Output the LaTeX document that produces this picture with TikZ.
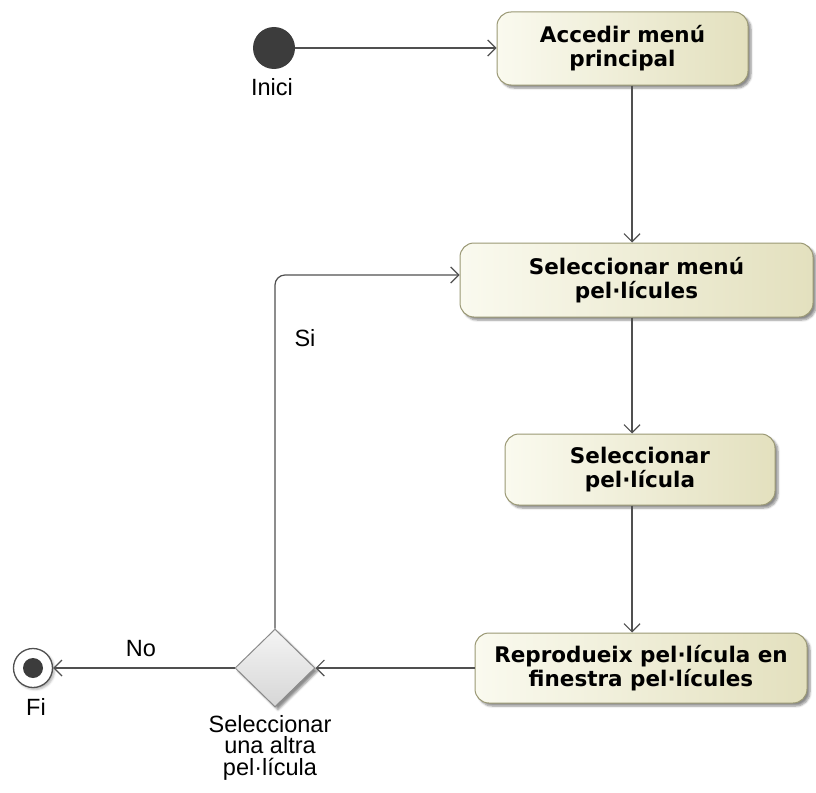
\documentclass[tikz,border=0pt]{standalone}
\usepackage{fontspec}
\setmainfont{Liberation Sans}
\newfontfamily\boxfont{DejaVu Sans}
\usetikzlibrary{arrows.meta,shapes.geometric,shadows.blur}

\definecolor{boxlight}{HTML}{FAFAEF}
\definecolor{boxdark}{HTML}{E3E0BE}
\definecolor{boxedge}{HTML}{9A9874}
\definecolor{flowgrey}{HTML}{505050}
\definecolor{dotgrey}{HTML}{3C3C3C}
\definecolor{declight}{HTML}{F4F4F4}
\definecolor{decdark}{HTML}{D6D6D6}
\definecolor{decedge}{HTML}{8A8A8A}

\tikzset{
  action/.style={draw=boxedge, line width=1pt, rounded corners=14pt,
    left color=boxlight, right color=boxdark,
    blur shadow={shadow xshift=3pt, shadow yshift=-3pt, shadow blur steps=6, shadow opacity=45},
    align=center, inner sep=0pt,
    font=\boxfont\bfseries\fontsize{21.5}{24}\selectfont},
  flow/.style={draw=flowgrey, line width=1.2pt,
    -{Straight Barb[length=8pt,width=16pt,line width=1.2pt]}},
  lbl/.style={font=\fontsize{23.5}{21.5}\selectfont, inner sep=0pt, align=center},
}

\begin{document}
\begin{tikzpicture}[x=1pt, y=-1pt]
\useasboundingbox (0,0) rectangle (816,792);

% activity nodes
\node (b1) [action, minimum width=251pt, minimum height=73pt] at (622.5,48.5) {Accedir menú\\principal};
\node (b2) [action, minimum width=353pt, minimum height=74pt] at (636.5,280) {Seleccionar menú\\pel·lícules};
\node (b3) [action, minimum width=270pt, minimum height=71pt] at (640,469.5) {Seleccionar\\pel·lícula};
\node (b4) [action, minimum width=332pt, minimum height=70pt] at (641,668) {Reprodueix pel·lícula en\\finestra pel·lícules};

% initial and final nodes
\node (start) [circle, fill=dotgrey, minimum size=42pt, inner sep=0pt] at (274,48) {};
\node (startlbl) [lbl, anchor=base] at (272,95) {Inici};

\node (final) [circle, draw=flowgrey, line width=1.3pt, fill=white, minimum size=39pt, inner sep=0pt,
  blur shadow={shadow xshift=2pt, shadow yshift=-2pt, shadow opacity=30}] at (33,668) {};
\node (finaldot) [circle, fill=dotgrey, minimum size=20pt, inner sep=0pt] at (final) {};
\node (finallbl) [lbl, anchor=base] at (36,715) {Fi};

% decision
\node (dec) [diamond, aspect=1.03, draw=decedge, line width=1pt, top color=declight, bottom color=decdark,
  minimum width=80pt, minimum height=78pt, inner sep=0pt,
  blur shadow={shadow xshift=3pt, shadow yshift=-3pt, shadow opacity=45}] at (275,668) {};
\node (declbl) [lbl, anchor=north] at (270,715) {Seleccionar\\una altra\\pel·lícula};

% vertical flow column
\coordinate (col) at (632,0);

% connectors
\draw[flow] (start.east) -- (b1.west |- start.east);
\draw[flow] (b1.south -| col) -- (b2.north -| col);
\draw[flow] (b2.south -| col) -- (b3.north -| col);
\draw[flow] (b3.south -| col) -- (b4.north -| col);
\draw[flow] (b4.west) -- (dec.east);
\draw[flow] (dec.west) -- (final.east);
\draw[flow, rounded corners=10pt] (dec.north) |- ([yshift=5pt]b2.west);

% guard labels
\node (nolbl) [lbl] at (141,649) {No};
\node (silbl) [lbl] at (305,338) {Si};
\end{tikzpicture}
\end{document}
